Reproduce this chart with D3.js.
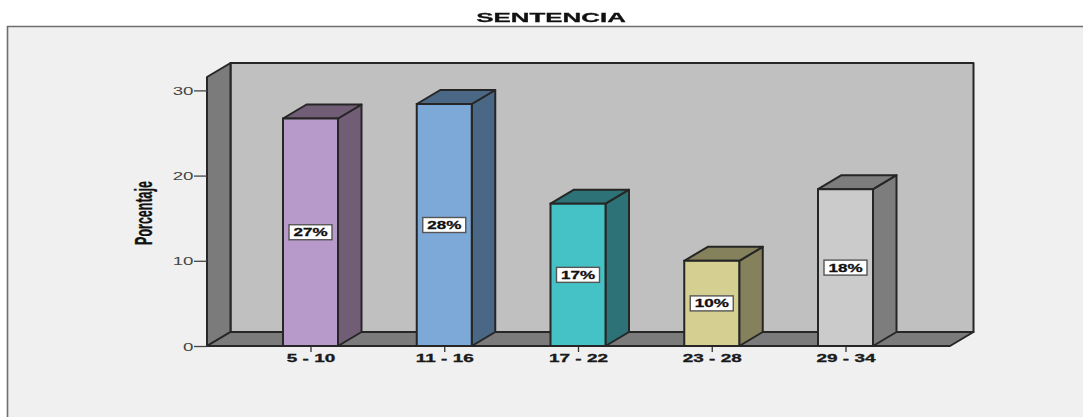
<!DOCTYPE html>
<html><head><meta charset="utf-8">
<script src="https://cdn.jsdelivr.net/npm/d3@7"></script>
<style>html,body{margin:0;padding:0;background:#fff;overflow:hidden}svg{display:block;filter:blur(0.45px)}text{font-family:"Liberation Sans",Arial,sans-serif}.hv{stroke:#111;stroke-width:0.3px}</style>
</head><body><svg id="c" width="1083" height="417"></svg>
<script>
const categories = ["5 - 10","11 - 16","17 - 22","23 - 28","29 - 34"];
const values = [26.7,28.4,16.7,10.0,18.4];
const percentLabels = ["27%","28%","17%","10%","18%"];
const frontColors = ["#b89aca","#7ca9d8","#45c2c6","#d6cf92","#cbcbcb"];
const sideColors = ["#725d77","#4a6885","#2d7276","#85815c","#7d7d7d"];
const yTicks = [0,10,20,30];
const titleText = "SENTENCIA";
const yLabel = "Porcentaje";

const W=1083,H=417, dx=23.5, dy=-14, barW=55;
const svg=d3.select("#c");
const y=d3.scaleLinear().domain([0,31.57]).range([346,77]);
const x=d3.scalePoint().domain(categories).range([310.5,845.5]);
const line="#262626";
const poly=(pts,fill,sw=2)=>svg.append("polygon").attr("points",pts.map(p=>p.join(",")).join(" ")).attr("fill",fill).attr("stroke",line).attr("stroke-width",sw).attr("stroke-linejoin","round");

// outer frame
svg.append("rect").attr("x",7.5).attr("y",26.5).attr("width",W).attr("height",H).attr("fill","#f0f0f0");
svg.append("path").attr("d",`M7.5,${H} V26.5 H${W}`).attr("fill","none").attr("stroke","#6e6e6e").attr("stroke-width",1.6);

const x0=207, x1=950, y0=y(0), yT=y.range()[1];
// back wall, left wall, floor
poly([[x0+dx,yT+dy],[x1+dx,yT+dy],[x1+dx,y0+dy],[x0+dx,y0+dy]],"#c0c0c0");
poly([[x0,yT],[x0+dx,yT+dy],[x0+dx,y0+dy],[x0,y0]],"#7b7b7b");
poly([[x0,y0],[x0+dx,y0+dy],[x1+dx,y0+dy],[x1,y0]],"#7b7b7b");

// y axis
const yAxis=svg.append("g").attr("transform",`translate(${x0},0)`).call(d3.axisLeft(y).tickValues(yTicks).tickSize(13).tickPadding(0).tickFormat(d3.format("d")));
yAxis.select(".domain").remove();
yAxis.selectAll("line").attr("stroke","#444").attr("stroke-width",1.3);
yAxis.selectAll("text").attr("fill","#444").attr("font-size",11).attr("font-weight","normal")
  .attr("x",0).attr("dy",null).attr("y",4).attr("text-anchor","end")
  .attr("transform","translate(-13.5,0) scale(1.7,1)");

// x axis
const xAxis=svg.append("g").attr("transform",`translate(0,${y0})`).call(d3.axisBottom(x).tickSize(6).tickPadding(2));
xAxis.select(".domain").remove();
xAxis.selectAll("line").attr("stroke","#333").attr("stroke-width",1.3);
xAxis.selectAll("text").attr("class","hv").attr("fill","#1c1c1c").attr("font-size",11).attr("font-weight","bold").attr("dy",null).attr("y",0)
  .attr("transform","translate(0,16) scale(1.72,1)");

// bars
categories.forEach((c,i)=>{
  const l=x(c)-barW/2, r=l+barW, t=y(values[i]);
  poly([[r,y0],[r+dx,y0+dy],[r+dx,t+dy],[r,t]],sideColors[i]);
  poly([[l,t],[l+dx,t+dy],[r+dx,t+dy],[r,t]],sideColors[i]);
  svg.append("rect").attr("x",l).attr("y",t).attr("width",barW).attr("height",y0-t).attr("fill",frontColors[i]).attr("stroke",line).attr("stroke-width",2);
  const cy=(t+y0)/2;
  svg.append("rect").attr("x",x(c)-21.5).attr("y",cy-7.5).attr("width",43).attr("height",15).attr("fill","#fff").attr("stroke","#555").attr("stroke-width",1.4);
  svg.append("text").attr("class","hv").attr("text-anchor","middle").attr("font-size",11).attr("font-weight","bold").attr("fill","#111")
    .attr("transform",`translate(${x(c)},${cy+4}) scale(1.55,1)`).text(percentLabels[i]);
});

// title
svg.append("text").attr("class","hv").attr("text-anchor","middle").attr("font-size",13.5).attr("font-weight","bold").attr("fill","#111")
  .attr("transform","translate(551,22) scale(1.92,1)").text(titleText);
// y label
svg.append("text").attr("class","hv").attr("text-anchor","middle").attr("font-size",24).attr("font-weight","bold").attr("fill","#111")
  .attr("transform","translate(152,213) rotate(-90) scale(0.52,1)").text(yLabel);
</script></body></html>
